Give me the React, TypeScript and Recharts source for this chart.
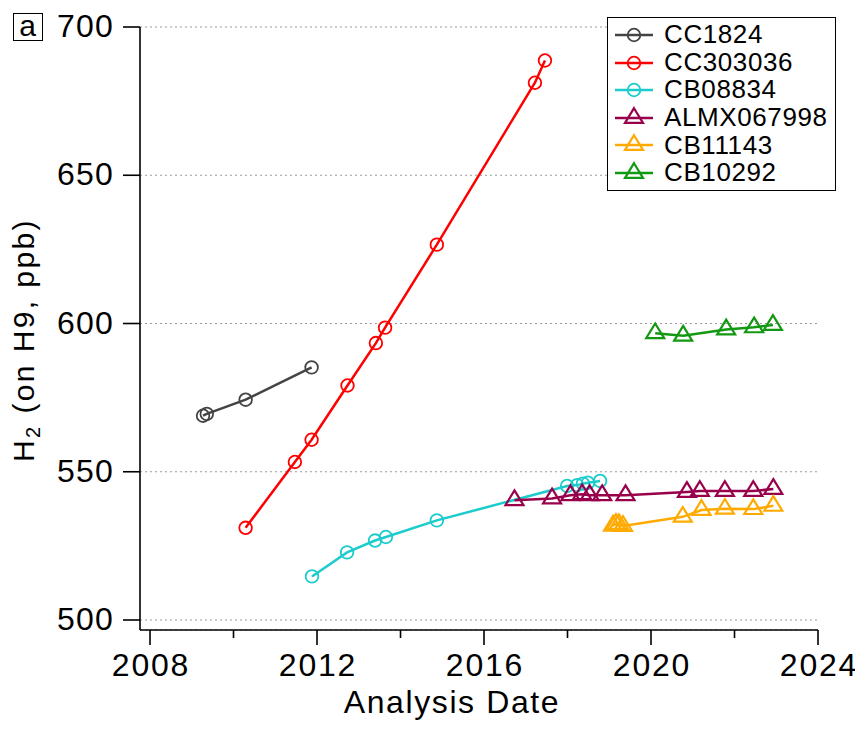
import React from 'react';
import { LineChart, Line, XAxis, YAxis, CartesianGrid, Legend } from 'recharts';

// ---- data ----
const cc1824Year = [2009.27, 2009.36, 2010.29, 2011.87];
const cc1824H2 = [568.9, 569.5, 574.3, 585.2];

const cc303036Year = [2010.29, 2011.47, 2011.87, 2012.73, 2013.41, 2013.63, 2014.87, 2017.22, 2017.46];
const cc303036H2 = [531.1, 553.3, 560.8, 579.1, 593.4, 598.6, 626.6, 681.2, 688.7];

const cb08834Year = [2011.88, 2012.72, 2013.39, 2013.65, 2014.87, 2017.99, 2018.23, 2018.37, 2018.49, 2018.78];
const cb08834H2 = [514.7, 522.8, 526.8, 528.0, 533.6, 545.2, 545.5, 546.0, 546.3, 546.9];

const almxYear = [2016.73, 2017.63, 2018.07, 2018.35, 2018.53, 2018.83, 2019.39, 2020.86, 2021.17, 2021.77, 2022.45, 2022.93];
const almxH2 = [540.4, 541.0, 542.1, 542.4, 542.1, 542.1, 542.1, 543.2, 543.5, 543.5, 543.5, 544.2];

const cb11143Year = [2019.09, 2019.16, 2019.23, 2019.33, 2020.76, 2021.21, 2021.77, 2022.45, 2022.93];
const cb11143H2 = [531.8, 532.4, 532.3, 531.7, 534.8, 537.1, 537.5, 537.4, 538.5];

const cb10292Year = [2020.1, 2020.77, 2021.8, 2022.47, 2022.92];
const cb10292H2 = [596.7, 595.9, 598.0, 598.7, 599.5];

const seriesNames = ['CC1824', 'CC303036', 'CB08834', 'ALMX067998', 'CB11143', 'CB10292'];
const seriesColors = ['#444444', '#ff0000', '#1ccccc', '#99004c', '#ffaa00', '#129912'];
const seriesShapes = ['circle', 'circle', 'circle', 'triangle', 'triangle', 'triangle'];
const seriesYears = [cc1824Year, cc303036Year, cb08834Year, almxYear, cb11143Year, cb10292Year];
const seriesValues = [cc1824H2, cc303036H2, cb08834H2, almxH2, cb11143H2, cb10292H2];

const xTicks = [2008, 2010, 2012, 2014, 2016, 2018, 2020, 2022, 2024];
const yTicks = [500, 550, 600, 650, 700];
const xDomain = [2007.76, 2024];
const yDomain = [496.63, 700];

const FONT = '"Liberation Sans", Arial, Helvetica, sans-serif';

const series = seriesNames.map((name, i) => ({
  name,
  color: seriesColors[i],
  shape: seriesShapes[i],
  data: seriesYears[i].map((x, j) => ({ x, y: seriesValues[i][j] })),
}));

function Marker({ shape, cx, cy, color }: { shape: string; cx: number; cy: number; color: string }) {
  if (shape === 'triangle') {
    const d = `M ${cx} ${cy - 9.8} L ${cx + 9} ${cy + 4.9} L ${cx - 9} ${cy + 4.9} Z`;
    return <path d={d} fill="none" stroke={color} strokeWidth={2.2} strokeLinejoin="miter" />;
  }
  return <circle cx={cx} cy={cy} r={6.3} fill="none" stroke={color} strokeWidth={1.8} />;
}

const makeDot = (name: string, shape: string, color: string) => (props: any) => {
  const { cx, cy, index } = props;
  return (
    <g key={`${name}-${index}`}>
      <Marker shape={shape} cx={cx} cy={cy} color={color} />
    </g>
  );
};

const XTick = (props: any) => {
  const { x, y, payload } = props;
  const v = payload.value;
  const major = v % 4 === 0;
  return (
    <g>
      <line x1={x} x2={x} y1={y} y2={y + (major ? 15 : 8)} stroke="#000" strokeWidth={1.6} />
      {major && (
        <text x={x + 1} y={y + 46} textAnchor="middle" fontFamily={FONT} fontSize={32} letterSpacing={1.8} fill="#000">
          {v}
        </text>
      )}
    </g>
  );
};

const YTick = (props: any) => {
  const { x, y, payload } = props;
  return (
    <g>
      <line x1={x} x2={x - 17} y1={y} y2={y} stroke="#000" strokeWidth={1.6} />
      <text x={x - 26} y={y + 10} textAnchor="end" fontFamily={FONT} fontSize={32} letterSpacing={1.2} fill="#000">
        {payload.value}
      </text>
    </g>
  );
};

const YTitle = () => (
  <text
    transform="translate(26, 332) rotate(-90)"
    textAnchor="middle"
    fontFamily={FONT}
    fontSize={30}
    letterSpacing={2.4}
    fill="#000"
  >
    <tspan>H</tspan>
    <tspan fontSize={20} dy={6}>2</tspan>
    <tspan dy={-6}> (on H9, ppb)</tspan>
  </text>
);

const XTitle = () => (
  <text x={444} y={705} textAnchor="middle" fontFamily={FONT} fontSize={32} letterSpacing={1.6} fill="#000">
    Analysis Date
  </text>
);

const LegendBox = () => (
  <div
    style={{
      border: '1.5px solid #000',
      background: '#fff',
      width: 227,
      height: 169,
      paddingTop: 3,
      boxSizing: 'content-box',
      fontFamily: FONT,
    }}
  >
    {seriesNames.map((name, idx) => {
      const color = seriesColors[idx];
      const shape = seriesShapes[idx];
      return (
        <div key={name} style={{ display: 'flex', alignItems: 'center', height: 27.6 }}>
          <svg width={56} height={27.6} style={{ display: 'block' }}>
            <line x1={7} x2={45} y1={14} y2={14} stroke={color} strokeWidth={2.5} />
            <Marker shape={shape} cx={26} cy={14} color={color} />
          </svg>
          <span style={{ fontSize: 26, letterSpacing: 0.6, color: '#000', lineHeight: '27px' }}>{name}</span>
        </div>
      );
    })}
  </div>
);

export default function App() {
  return (
    <div style={{ position: 'relative', width: 850, height: 715, background: '#fff' }}>
      <LineChart width={850} height={715} margin={{ top: 19, right: 40, bottom: 33, left: 52 }}>
        <CartesianGrid horizontal vertical={false} stroke="#9a9a9a" strokeDasharray="2 3" strokeWidth={1} />
        <XAxis
          type="number"
          dataKey="x"
          domain={xDomain}
          allowDataOverflow
          ticks={xTicks}
          interval={0}
          height={60}
          tickSize={0}
          tickMargin={0}
          tickLine={false}
          tick={<XTick />}
          axisLine={{ stroke: '#000', strokeWidth: 1.6 }}
          label={<XTitle />}
        />
        <YAxis
          type="number"
          dataKey="y"
          domain={yDomain}
          allowDataOverflow
          ticks={yTicks}
          interval={0}
          width={80}
          tickSize={0}
          tickMargin={0}
          tickLine={false}
          tick={<YTick />}
          axisLine={{ stroke: '#000', strokeWidth: 1.6 }}
          label={<YTitle />}
        />
        <Legend
          layout="vertical"
          align="center"
          verticalAlign="middle"
          content={<LegendBox />}
          wrapperStyle={{ left: 599, top: 9, width: 232, height: 176 }}
        />
        {series.map((s) => (
          <Line
            key={s.name}
            data={s.data}
            dataKey="y"
            name={s.name}
            type="linear"
            stroke={s.color}
            strokeWidth={2.5}
            dot={makeDot(s.name, s.shape, s.color)}
            activeDot={false}
            isAnimationActive={false}
          />
        ))}
      </LineChart>
      <div
        style={{
          position: 'absolute',
          left: 4.5,
          top: 4.5,
          width: 28,
          height: 26,
          border: '1.4px solid #000',
          fontFamily: FONT,
          fontSize: 30,
          lineHeight: '24px',
          textAlign: 'center',
          color: '#000',
        }}
      >
        a
      </div>
    </div>
  );
}
